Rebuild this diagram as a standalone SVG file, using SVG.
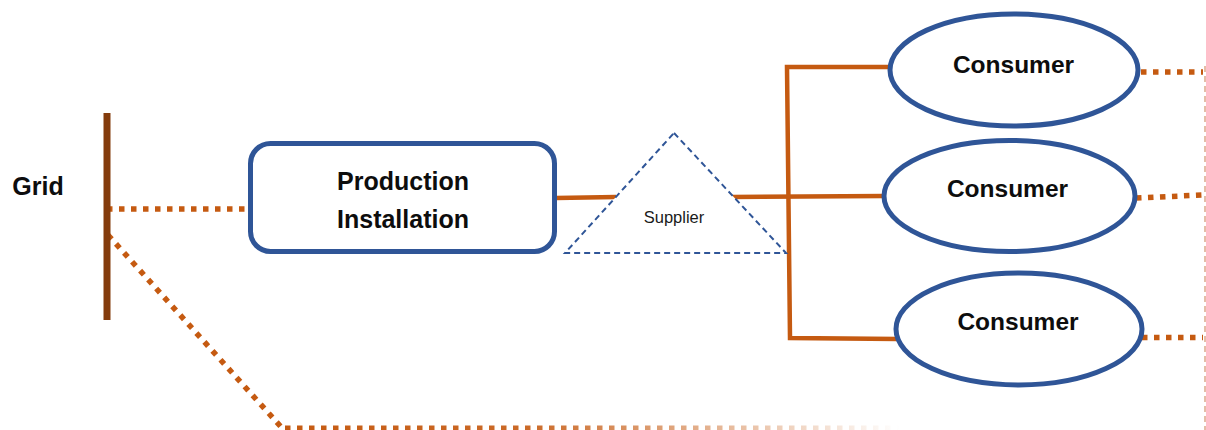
<svg xmlns="http://www.w3.org/2000/svg" width="1206" height="430" viewBox="0 0 1206 430">
  <style>
    .lbl { font-family: "Liberation Sans", Arial, sans-serif; font-weight: bold; fill: #0d0d0d; text-anchor: middle; }
    .solid { fill: none; stroke: #c55a11; stroke-width: 4.5; }
    .dot { fill: none; stroke: #c55a11; stroke-width: 5.5; stroke-dasharray: 5.5 6.5; }
    .ell { fill: #ffffff; stroke: #2f5597; stroke-width: 5; }
  </style>
  <defs>
    <linearGradient id="fade" gradientUnits="userSpaceOnUse" x1="282" y1="0" x2="900" y2="0">
      <stop offset="0" stop-color="#c55a11" stop-opacity="1"/>
      <stop offset="0.4" stop-color="#c55a11" stop-opacity="0.9"/>
      <stop offset="1" stop-color="#c55a11" stop-opacity="0"/>
    </linearGradient>
  </defs>
  <rect width="1206" height="430" fill="#ffffff"/>

  <g id="connectors">
    <line class="dot" x1="107" y1="209" x2="247" y2="209"/>
    <polyline class="dot" points="108,235 282,428"/>
    <line x1="285" y1="428" x2="900" y2="428" fill="none" stroke="url(#fade)" stroke-width="5" stroke-dasharray="5.5 6.5"/>
    <line class="solid" x1="556" y1="198" x2="616" y2="197"/>
    <line class="solid" x1="731" y1="197" x2="885" y2="196"/>
    <polyline class="solid" points="893,67 787,67 790,338 898,339"/>
    <line class="dot" x1="1141" y1="72" x2="1203" y2="72"/>
    <line class="dot" x1="1136" y1="198" x2="1203" y2="195"/>
    <line class="dot" x1="1142" y1="337.5" x2="1203" y2="337.5"/>
    <line x1="1205" y1="66" x2="1205" y2="430" stroke="#dba88a" stroke-width="1.5" stroke-dasharray="6 4"/>
  </g>

  <g id="grid">
    <rect x="103.5" y="113" width="7" height="207" fill="#843c0c"/>
    <text class="lbl" x="38" y="195" font-size="25">Grid</text>
  </g>

  <g id="production">
    <rect x="250.5" y="143.5" width="304" height="108" rx="20" ry="20" fill="#ffffff" stroke="#2f5597" stroke-width="5"/>
    <text class="lbl" x="403" y="190" font-size="25">Production</text>
    <text class="lbl" x="403" y="228" font-size="25">Installation</text>
  </g>

  <g id="supplier">
    <polygon points="674,133 786,253 565,253" fill="#ffffff" stroke="#2f5597" stroke-width="2" stroke-dasharray="6 4"/>
    <text x="674" y="223" font-family="Liberation Sans, Arial, sans-serif" font-size="16.5" fill="#1a1a1a" text-anchor="middle">Supplier</text>
  </g>

  <g id="consumer1">
    <ellipse class="ell" cx="1014" cy="70" rx="124" ry="56"/>
    <text class="lbl" x="1013.5" y="73" font-size="24.5">Consumer</text>
  </g>
  <g id="consumer2">
    <ellipse class="ell" cx="1009.5" cy="196" rx="125.5" ry="55.5"/>
    <text class="lbl" x="1007.5" y="197" font-size="24.5">Consumer</text>
  </g>
  <g id="consumer3">
    <ellipse class="ell" cx="1019" cy="329" rx="123" ry="56"/>
    <text class="lbl" x="1018" y="330" font-size="24.5">Consumer</text>
  </g>
</svg>
